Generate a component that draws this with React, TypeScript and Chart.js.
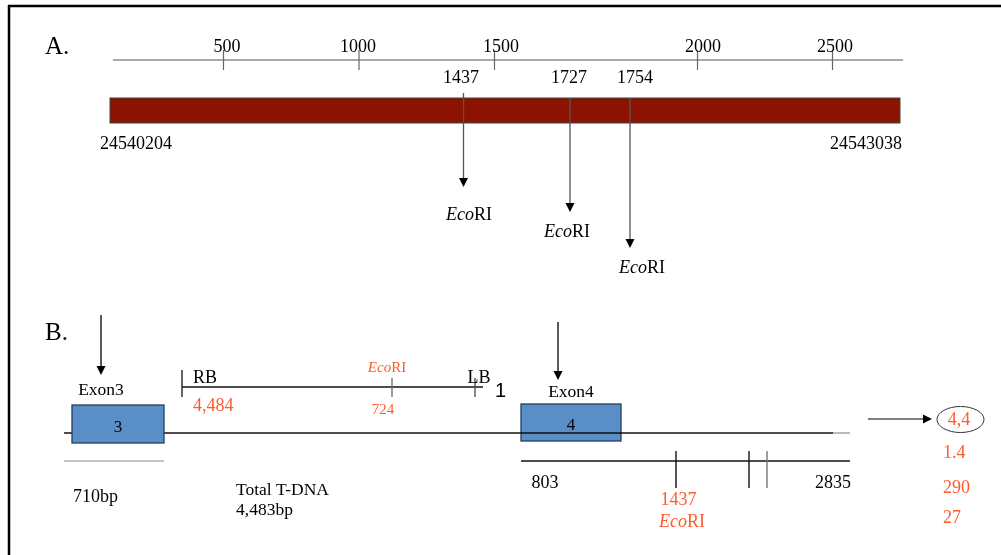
import React, { useEffect, useRef } from 'react';
import { Chart, registerables } from 'chart.js';

Chart.register(...registerables);

const SERIF = '"Liberation Serif", "Times New Roman", serif';
const SANS = '"Liberation Sans", Arial, sans-serif';
const RED = '#ff5a2d';

// ---- Panel A data (positions in diagram units along the drawing axis) ----
const panelLabels = ['A.', 'B.'];
const rulerTickLabels = ['500', '1000', '1500', '2000', '2500'];
const rulerTickAt = [223.5, 359, 494.5, 697.5, 832.5];
const rulerLabelAt = [227, 358, 501, 703, 835];
const geneCoords = ['24540204', '24543038'];
const siteLabelsA = ['1437', '1727', '1754'];
const siteAtA = [463.5, 570, 630];
const siteArrowEndA = [187, 212, 248];
const enzymeName = ['Eco', 'RI'];

// ---- Panel B data ----
const exonNames = ['Exon3', 'Exon4'];
const exonNumbers = ['3', '4'];
const exonStart = [72, 521];
const exonEnd = [164, 621];
const tdnaBorders = ['RB', 'LB'];
const tdnaValues = ['4,484', '724'];
const tdnaMarker = '1';
const fragmentEnds = ['803', '2835'];
const fragmentSiteLabel = '1437';
const fragmentSiteAt = [676, 749, 767];
const sizeLabels = ['710bp', 'Total T-DNA', '4,483bp'];
const resultValues = ['4,4', '1.4', '290', '27'];

const diagramPlugin = {
  id: 'diagram',
  afterDatasetsDraw(chart: any) {
    const ctx: CanvasRenderingContext2D = chart.ctx;
    const xs = chart.scales.x;
    const ys = chart.scales.y;
    const X = (v: number) => xs.getPixelForValue(v);
    const Y = (v: number) => ys.getPixelForValue(v);

    const line = (x0: number, y0: number, x1: number, y1: number, color = '#000', w = 1) => {
      ctx.save();
      ctx.strokeStyle = color;
      ctx.lineWidth = w;
      ctx.beginPath();
      ctx.moveTo(X(x0), Y(y0));
      ctx.lineTo(X(x1), Y(y1));
      ctx.stroke();
      ctx.restore();
    };
    const text = (s: string, x: number, y: number, size: number, color = '#000', align: CanvasTextAlign = 'center', italic = false, family = SERIF) => {
      ctx.save();
      ctx.font = `${italic ? 'italic ' : ''}${size}px ${family}`;
      ctx.fillStyle = color;
      ctx.textAlign = align;
      ctx.textBaseline = 'alphabetic';
      ctx.fillText(s, X(x), Y(y));
      ctx.restore();
    };
    const eco = (cx: number, y: number, size: number, color = '#000') => {
      ctx.save();
      ctx.font = `italic ${size}px ${SERIF}`;
      const w1 = ctx.measureText(enzymeName[0]).width;
      ctx.font = `${size}px ${SERIF}`;
      const w2 = ctx.measureText(enzymeName[1]).width;
      const start = X(cx) - (w1 + w2) / 2;
      ctx.fillStyle = color;
      ctx.textAlign = 'left';
      ctx.textBaseline = 'alphabetic';
      ctx.font = `italic ${size}px ${SERIF}`;
      ctx.fillText(enzymeName[0], start, Y(y));
      ctx.font = `${size}px ${SERIF}`;
      ctx.fillText(enzymeName[1], start + w1, Y(y));
      ctx.restore();
    };
    const arrowDown = (x: number, y0: number, tip: number, lineColor = '#000', w = 1.2) => {
      const hw = 4.5, hh = 9;
      line(x, y0, x, tip - hh + 1, lineColor, w);
      ctx.save();
      ctx.fillStyle = '#000';
      ctx.beginPath();
      ctx.moveTo(X(x) - hw, Y(tip) - hh);
      ctx.lineTo(X(x) + hw, Y(tip) - hh);
      ctx.lineTo(X(x), Y(tip));
      ctx.closePath();
      ctx.fill();
      ctx.restore();
    };
    const arrowRight = (x0: number, tip: number, y: number) => {
      const hw = 4.5, hh = 9;
      line(x0, y, tip - hh + 1, y, '#000', 1.2);
      ctx.save();
      ctx.fillStyle = '#000';
      ctx.beginPath();
      ctx.moveTo(X(tip) - hh, Y(y) - hw);
      ctx.lineTo(X(tip) - hh, Y(y) + hw);
      ctx.lineTo(X(tip), Y(y));
      ctx.closePath();
      ctx.fill();
      ctx.restore();
    };
    const rect = (x0: number, y0: number, x1: number, y1: number, fill: string, stroke: string, w = 1) => {
      ctx.save();
      ctx.fillStyle = fill;
      ctx.strokeStyle = stroke;
      ctx.lineWidth = w;
      ctx.fillRect(X(x0), Y(y0), X(x1) - X(x0), Y(y1) - Y(y0));
      ctx.strokeRect(X(x0), Y(y0), X(x1) - X(x0), Y(y1) - Y(y0));
      ctx.restore();
    };

    // frame
    line(8, 6, 1001, 6, '#000', 2.5);
    line(9, 5, 9, 555, '#000', 2.5);

    // ---------- Panel A ----------
    text(panelLabels[0], 45, 54, 25, '#000', 'left');
    line(113, 60, 903, 60, '#555', 1.2);
    rulerTickAt.forEach((t, i) => {
      line(t, 50, t, 70, '#666', 1.2);
      text(rulerTickLabels[i], rulerLabelAt[i], 52, 18);
    });
    rect(110, 98, 900, 123, '#8b1300', '#444', 1);
    text(geneCoords[0], 136, 149, 18);
    text(geneCoords[1], 866, 149, 18);
    const siteTop = [93, 98, 98];
    const siteLabelX = [461, 569, 635];
    const ecoX = [469, 567, 642];
    const ecoBase = [220, 237, 273];
    siteAtA.forEach((s, i) => {
      text(siteLabelsA[i], siteLabelX[i], 83, 18);
      arrowDown(s, siteTop[i], siteArrowEndA[i], '#555', 1.3);
      eco(ecoX[i], ecoBase[i], 18);
    });

    // ---------- Panel B ----------
    text(panelLabels[1], 45, 340, 25, '#000', 'left');
    arrowDown(101, 315, 375, '#000', 1.3);
    arrowDown(558, 322, 380, '#000', 1.3);
    text(exonNames[0], 101, 395, 17.5);
    text(exonNames[1], 571, 397, 17.5);

    // exon 4 box under the line
    rect(exonStart[1], 404, exonEnd[1], 441, '#5a8ec6', '#23405f', 1.3);
    line(64, 433, 833, 433, '#111', 1.6);
    line(833, 433, 850, 433, '#aaa', 1.6);
    rect(exonStart[0], 405, exonEnd[0], 443, '#5a8ec6', '#23405f', 1.3);
    text(exonNumbers[0], (exonStart[0] + exonEnd[0]) / 2, 431.5, 17);
    text(exonNumbers[1], (exonStart[1] + exonEnd[1]) / 2, 430, 17);

    line(64, 461, 164, 461, '#888', 1);
    text(sizeLabels[0], 73, 502, 18, '#000', 'left');
    text(sizeLabels[1], 236, 495, 17.5, '#000', 'left');
    text(sizeLabels[2], 236, 515, 17.5, '#000', 'left');

    // T-DNA
    line(182, 387, 483, 387, '#111', 1.5);
    line(182, 370, 182, 397, '#111', 1.3);
    line(392, 378, 392, 397, '#666', 1.3);
    line(475, 378, 475, 397, '#444', 1.3);
    text(tdnaBorders[0], 193, 383, 18, '#000', 'left');
    text(tdnaValues[0], 193, 411, 18, RED, 'left');
    eco(387, 372, 15, RED);
    text(tdnaValues[1], 383, 414, 15, RED);
    text(tdnaBorders[1], 479, 383, 18);
    text(tdnaMarker, 495, 397, 20, '#000', 'left', false, SANS);

    // fragment
    line(521, 461, 850, 461, '#111', 1.6);
    fragmentSiteAt.forEach((s, i) => {
      line(s, 451, s, 488, i === 2 ? '#777' : '#111', 1.4);
    });
    text(fragmentEnds[0], 545, 488, 18);
    text(fragmentEnds[1], 833, 488, 18);
    text(fragmentSiteLabel, 678.5, 505, 18, RED);
    eco(682, 527, 18, RED);

    // result
    arrowRight(868, 932, 419);
    ctx.save();
    ctx.strokeStyle = '#333';
    ctx.lineWidth = 1;
    ctx.beginPath();
    ctx.ellipse(X(960.5), Y(419.5), 23.5, 13, 0, 0, Math.PI * 2);
    ctx.stroke();
    ctx.restore();
    text(resultValues[0], 959, 425, 18, RED);
    text(resultValues[1], 943, 458, 18, RED, 'left');
    text(resultValues[2], 943, 492.5, 18, RED, 'left');
    text(resultValues[3], 943, 523, 18, RED, 'left');
  },
};

export default function App() {
  const ref = useRef<HTMLCanvasElement | null>(null);
  useEffect(() => {
    document.body.style.margin = '0';
    const canvas = ref.current;
    if (!canvas) return;
    const chart = new Chart(canvas, {
      type: 'scatter',
      data: { datasets: [{ data: [], pointRadius: 0 }] },
      options: {
        animation: false,
        responsive: false,
        devicePixelRatio: 1,
        layout: { padding: 0 },
        plugins: { legend: { display: false }, tooltip: { enabled: false }, title: { display: false } },
        scales: {
          x: { type: 'linear', min: 0, max: 1001, display: false },
          y: { type: 'linear', min: 0, max: 555, reverse: true, display: false },
        },
      },
      plugins: [diagramPlugin],
    });
    return () => chart.destroy();
  }, []);
  return (
    <canvas ref={ref} width={1001} height={555} style={{ display: 'block', width: 1001, height: 555, background: '#fff' }} />
  );
}
